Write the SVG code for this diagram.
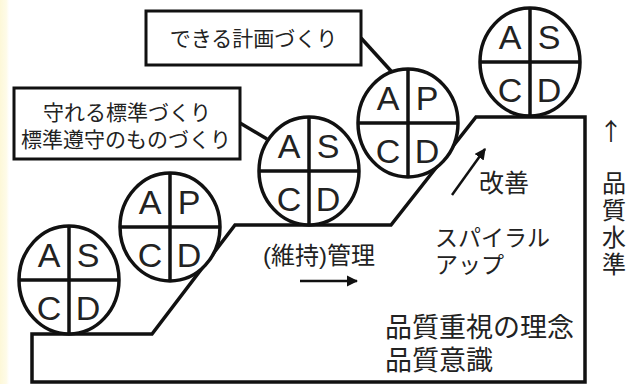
<svg xmlns="http://www.w3.org/2000/svg" width="638" height="384" viewBox="0 0 638 384">
<defs>
<linearGradient id="strip" x1="0" y1="0" x2="1" y2="0">
<stop offset="0" stop-color="#fdf8d8"/>
<stop offset="0.7" stop-color="#fefbe8"/>
<stop offset="1" stop-color="#ffffff"/>
</linearGradient>
<marker id="ah" viewBox="0 0 10 10" refX="9" refY="5" markerWidth="4.5" markerHeight="4.5" orient="auto" markerUnits="strokeWidth">
<path d="M0,0 L10,5 L0,10 z" fill="#111"/>
</marker>
</defs>
<style>
.ln{fill:none;stroke:#111;stroke-width:3.5}
.c{fill:#fff;stroke:#111;stroke-width:3.5}
.q{stroke:#111;stroke-width:3.5}
.box{fill:#fff;stroke:#111;stroke-width:3}
.lt{font-family:"Liberation Sans","DejaVu Sans",sans-serif;font-size:34px;fill:#222;text-anchor:middle}
.jp{font-family:"Liberation Sans","Noto Sans CJK JP",sans-serif;fill:#222}
.arr{stroke:#111;stroke-width:2.5;fill:none}
</style>
<rect x="0" y="0" width="638" height="384" fill="#fff"/>
<rect x="0" y="0" width="9" height="384" fill="url(#strip)"/>

<g id="stairs">
<path class="ln" d="M32,334 L152,334 L235,225 L391,225 L476,117 L585,117 L585,382 L32,382 Z" stroke-width="4"/>
</g>

<g id="connectors">
<line class="ln" x1="361" y1="38" x2="391" y2="71" stroke-width="2.5"/>
<line class="ln" x1="240" y1="123" x2="267" y2="139" stroke-width="2.5"/>
<line class="arr" x1="300" y1="281" x2="357" y2="281" marker-end="url(#ah)"/>
<line class="arr" x1="452" y1="195" x2="485" y2="149" marker-end="url(#ah)"/>
</g>

<g id="box-plan">
<rect class="box" x="146" y="11" width="215" height="54"/>
<text class="jp" x="253.5" y="46" font-size="21" text-anchor="middle">できる計画づくり</text>
</g>

<g id="box-standard">
<rect class="box" x="14" y="88" width="226" height="71"/>
<text class="jp" font-size="21" text-anchor="middle"><tspan x="127" y="120">守れる標準づくり</tspan><tspan x="126" y="147">標準遵守のものづくり</tspan></text>
</g>

<g id="c1" transform="translate(69,280)">
<ellipse class="c" rx="50" ry="54"/>
<line class="q" x1="0" y1="-54" x2="0" y2="54"/>
<line class="q" x1="-50" y1="0" x2="50" y2="0"/>
<text class="lt" x="-20" y="-13">A</text><text class="lt" x="19" y="-13">S</text>
<text class="lt" x="-20" y="40">C</text><text class="lt" x="19" y="40">D</text>
</g>

<g id="c2" transform="translate(170,227)">
<ellipse class="c" rx="50" ry="54"/>
<line class="q" x1="0" y1="-54" x2="0" y2="54"/>
<line class="q" x1="-50" y1="0" x2="50" y2="0"/>
<text class="lt" x="-20" y="-13">A</text><text class="lt" x="19" y="-13">P</text>
<text class="lt" x="-20" y="40">C</text><text class="lt" x="19" y="40">D</text>
</g>

<g id="c3" transform="translate(309,171)">
<ellipse class="c" rx="50" ry="54"/>
<line class="q" x1="0" y1="-54" x2="0" y2="54"/>
<line class="q" x1="-50" y1="0" x2="50" y2="0"/>
<text class="lt" x="-20" y="-13">A</text><text class="lt" x="19" y="-13">S</text>
<text class="lt" x="-20" y="40">C</text><text class="lt" x="19" y="40">D</text>
</g>

<g id="c4" transform="translate(408,123)">
<ellipse class="c" rx="50" ry="54"/>
<line class="q" x1="0" y1="-54" x2="0" y2="54"/>
<line class="q" x1="-50" y1="0" x2="50" y2="0"/>
<text class="lt" x="-20" y="-13">A</text><text class="lt" x="19" y="-13">P</text>
<text class="lt" x="-20" y="40">C</text><text class="lt" x="19" y="40">D</text>
</g>

<g id="c5" transform="translate(530,62)">
<ellipse class="c" rx="50" ry="54"/>
<line class="q" x1="0" y1="-54" x2="0" y2="54"/>
<line class="q" x1="-50" y1="0" x2="50" y2="0"/>
<text class="lt" x="-20" y="-13">A</text><text class="lt" x="19" y="-13">S</text>
<text class="lt" x="-20" y="40">C</text><text class="lt" x="19" y="40">D</text>
</g>

<g id="labels">
<text class="jp" x="263" y="264" font-size="24">(維持)管理</text>
<text class="jp" x="479" y="192" font-size="25">改善</text>
<text class="jp" font-size="23"><tspan x="435" y="246">スパイラル</tspan><tspan x="435" y="273">アップ</tspan></text>
<text class="jp" font-size="27"><tspan x="385" y="337">品質重視の理念</tspan><tspan x="385" y="370">品質意識</tspan></text>
<text x="611" y="140" font-size="24" text-anchor="middle" fill="#222" font-family="'Noto Sans CJK JP','DejaVu Sans',sans-serif">↑</text>
<text class="jp" x="612" y="171" font-size="24" writing-mode="vertical-rl" letter-spacing="3">品質水準</text>
</g>
</svg>
